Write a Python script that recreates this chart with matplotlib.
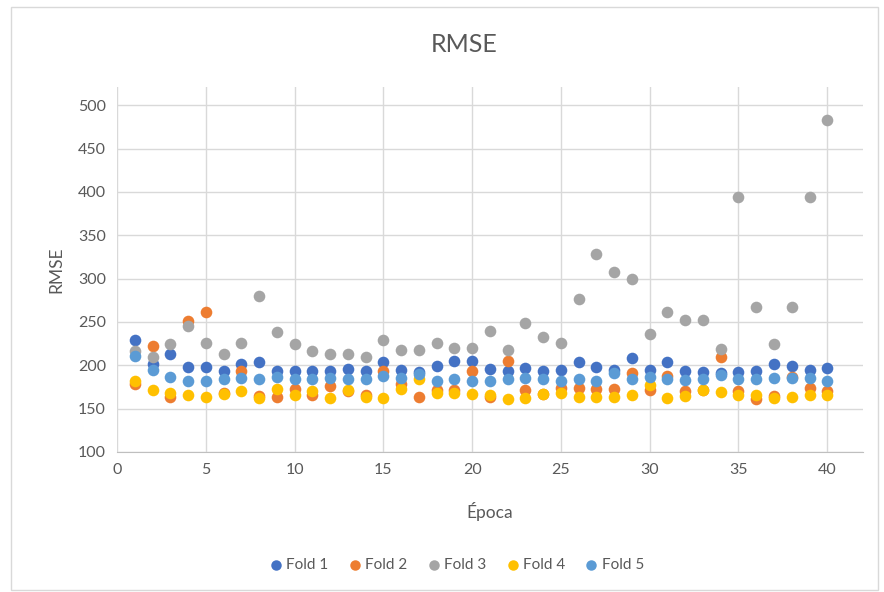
import numpy as np
import matplotlib
matplotlib.use("Agg")
import matplotlib.pyplot as plt

plt.rcParams['font.family'] = ['Lato', 'DejaVu Sans']

epochs = list(range(1, 41))

fold1 = [229, 201, 213, 198, 198, 193, 202, 204, 194, 194,
         194, 193, 196, 193, 204, 195, 192, 199, 205, 205,
         196, 194, 197, 194, 195, 204, 198, 195, 208, 195,
         204, 194, 192, 191, 192, 193, 201, 199, 195, 197]
fold2 = [178, 222, 164, 251, 261, 168, 193, 165, 164, 173,
         166, 176, 170, 166, 193, 178, 164, 172, 172, 194,
         164, 205, 171, 167, 174, 174, 173, 173, 191, 172,
         188, 170, 171, 209, 170, 161, 165, 186, 174, 170]
fold3 = [216, 209, 224, 245, 226, 213, 226, 280, 238, 225,
         216, 213, 213, 210, 229, 218, 218, 226, 220, 220,
         239, 218, 249, 233, 226, 277, 328, 308, 299, 236,
         261, 252, 252, 219, 394, 267, 225, 267, 394, 483]
fold4 = [182, 172, 168, 166, 163, 167, 170, 162, 173, 166,
         170, 162, 171, 164, 162, 173, 184, 168, 168, 167,
         166, 161, 162, 167, 168, 164, 164, 164, 166, 177,
         162, 165, 172, 169, 166, 166, 162, 164, 166, 166]
fold5 = [211, 195, 187, 182, 182, 184, 185, 184, 186, 184,
         184, 185, 184, 184, 188, 185, 190, 182, 184, 182,
         182, 184, 185, 184, 182, 184, 182, 191, 184, 187,
         184, 183, 184, 189, 184, 184, 185, 185, 185, 182]

series = [("Fold 1", fold1, "#4472C4"),
          ("Fold 2", fold2, "#ED7D31"),
          ("Fold 3", fold3, "#A5A5A5"),
          ("Fold 4", fold4, "#FFC000"),
          ("Fold 5", fold5, "#5B9BD5")]

fig = plt.figure(figsize=(8.84, 5.92), dpi=100)
ax = fig.add_axes([0.1324, 0.2365, 0.8436, 0.6165])

for name, vals, col in series:
    ax.scatter(epochs, vals, s=70, color=col, label=name, zorder=3, linewidths=0)

ax.set_xlim(0, 42)
ax.set_ylim(100, 521)
ax.set_xticks(range(0, 41, 5))
ax.set_yticks(range(100, 501, 50))
ax.grid(True, color="#D9D9D9", linewidth=1)
ax.set_axisbelow(True)
for s in ["top", "right", "left"]:
    ax.spines[s].set_visible(False)
ax.spines["bottom"].set_color("#BFBFBF")
ax.tick_params(length=0, colors="#595959", labelsize=11.5, pad=8)

ax.set_xlabel("Época", fontsize=12.5, color="#595959", labelpad=18)
ax.set_ylabel("RMSE", fontsize=12.5, color="#595959", labelpad=10)
fig.text(0.525, 0.924, "RMSE", ha="center", va="center", fontsize=18, color="#595959")

leg = fig.legend(loc="center", bbox_to_anchor=(0.517, 0.045), ncol=5, frameon=False,
                 fontsize=11, handlelength=0.8, handletextpad=0.3, columnspacing=1.3,
                 markerscale=0.9)
for t in leg.get_texts():
    t.set_color("#595959")

border = plt.Rectangle((0.013, 0.003), 0.98, 0.985, transform=fig.transFigure,
                       fill=False, edgecolor="#D9D9D9", linewidth=1)
fig.add_artist(border)

fig.savefig("out.png", dpi=100)
